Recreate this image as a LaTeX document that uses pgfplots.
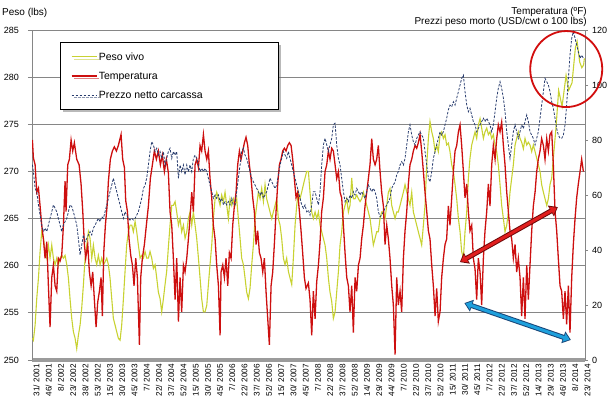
\documentclass[border=0pt]{standalone}
\usepackage{fontspec}
\setmainfont{Liberation Sans}
\usepackage{pgfplots}
\usepackage{pgfplotstable}
\pgfplotsset{compat=1.18}
\usetikzlibrary{shadows,arrows.meta}
\definecolor{cPeso}{RGB}{200,210,50}
\definecolor{cTemp}{RGB}{205,15,15}
\definecolor{cPrez}{RGB}{40,60,110}
\definecolor{cGrid}{RGB}{134,134,134}
\definecolor{cAxis}{RGB}{155,155,155}
\definecolor{cArrR}{RGB}{225,30,30}
\definecolor{cArrRd}{RGB}{110,10,10}
\definecolor{cArrB}{RGB}{30,160,220}
\definecolor{cArrBd}{RGB}{25,70,120}

% Peso vivo (lbs), x = week index from 31/2001
\pgfplotstableread{
t v
0 252.3
1.2 252.1
3.3 253.7
5.3 256.5
7.4 258.7
9.4 261.5
11.4 263.6
13.5 262.9
15.5 261.5
17.6 260.8
19.6 262.2
21.6 260.8
23.7 262.2
25.7 260.8
27.8 260.1
29.8 260.8
31.8 260.1
33.9 260.8
35.9 261.1
38.0 260.8
40.0 261.1
42.1 260.1
44.1 258.7
46.1 256.5
48.2 254.4
50.2 253
52.3 252.3
54.3 251.2
56.3 252.6
58.4 253.7
60.4 255.5
62.5 258
64.5 260.8
66.6 262.2
68.6 263.6
70.6 262.9
72.7 260.8
74.7 262.2
76.8 260.8
78.8 260.1
80.8 261.1
82.9 260.1
84.9 260.8
87.0 260.1
89.0 260.4
91.1 260.8
93.1 260.1
95.1 258.7
97.2 256.5
99.2 254.4
101.3 253.7
103.3 253
105.3 252.3
107.4 252.1
109.4 253.7
111.5 256.5
113.5 259.4
115.5 262.2
117.6 263.6
119.6 264.3
121.7 264.3
123.7 263.6
125.8 264.7
127.8 263.6
129.8 262.2
131.9 260.8
133.9 261.1
136.0 260.8
138.0 261.5
140.0 260.8
142.1 260.8
144.1 261.5
146.2 260.8
148.2 259.7
150.3 260.1
152.3 258.7
154.3 257.2
156.4 256.5
158.4 255.1
160.5 256.5
162.5 258
164.5 259.4
166.6 262
168.6 264.3
170.7 266.4
172.7 266.4
174.8 266.8
176.8 265.7
178.9 264.3
180.9 265
182.9 263.6
185.0 264.3
187.0 262.9
189.1 263.6
191.1 265
193.1 265.7
195.2 264.3
197.2 265.7
199.3 264.3
201.3 262.9
203.4 260.8
205.4 258.7
207.4 256.5
209.5 255.1
211.5 255.1
213.6 255.8
215.6 258
217.6 260.1
219.7 262.2
221.7 265
223.8 267.1
225.8 267.8
227.9 267.1
229.9 266.4
231.9 267.5
234.0 266.8
236.0 267.8
238.1 266.4
240.1 265
242.1 267.1
244.2 266.4
246.2 267.1
248.3 266.4
250.3 267.1
252.3 265
254.4 262.9
256.4 260.8
258.5 260.1
260.5 258.7
262.5 257.2
264.6 256.5
266.6 257.6
268.7 260.1
270.7 262.2
272.8 265
274.8 266.4
276.8 267.8
278.9 267.1
280.9 268.2
283.0 266.8
285.0 268.6
287.0 267.1
289.1 266.4
291.1 265.7
293.2 265
295.2 265.7
297.3 266.4
299.3 267.1
301.3 265
303.4 264.3
305.4 262.9
307.5 260.8
309.5 260.1
311.5 260.8
313.6 259.4
315.6 258.7
317.7 258
319.7 260.8
321.8 264.3
323.8 266.4
325.8 267.8
327.9 267.1
329.9 267.8
332.0 268.6
334.0 269.3
336.0 270
338.1 270
340.1 267.8
342.2 265.7
344.2 265
346.3 265.7
348.3 265
350.4 265.7
352.4 264.3
354.4 263.6
356.5 262.9
358.5 262.2
360.6 260.8
362.6 258.7
364.6 257.2
366.7 256.2
368.7 254.4
370.8 255.1
372.8 257.2
374.9 259.4
376.9 262.2
378.9 263.6
381.0 265.7
383.0 266.4
385.1 267.1
387.1 265.7
389.1 266.4
391.2 269.3
393.2 267.1
395.3 267.1
397.3 267.5
399.4 267.1
401.4 266.8
403.4 267.1
405.5 267.8
407.5 267.1
409.6 266.4
411.6 265.7
413.6 265
415.7 263.6
417.7 262.2
419.8 262.9
421.8 263.6
423.8 263.6
425.9 265
427.9 265.7
430.0 265.7
432.0 265
434.1 266.4
436.1 267.8
438.1 268.2
440.2 266.4
442.2 265.7
444.3 265
446.3 265.7
448.3 265.7
450.4 266.4
452.4 267.1
454.5 267.8
456.5 268.6
458.6 267.8
460.6 267.1
462.6 266.4
464.7 267.8
466.7 265.7
468.8 265
470.8 264.3
472.8 263.6
474.9 262.9
476.9 262.2
479.0 264.3
481.0 266.4
483.1 270.7
485.1 273.5
487.1 275.3
489.2 274.2
491.2 273.5
493.3 272.1
495.3 272.8
497.3 272.1
499.4 273.9
501.4 274.2
503.5 273.5
505.5 273.9
507.5 272.8
509.6 273
511.6 272.1
513.7 270.7
515.7 270
517.8 268.6
519.8 267.1
521.9 265
523.9 263.6
525.9 261.5
528.0 260.8
530.0 263.6
532.1 265.7
534.1 269.3
536.1 271.4
538.2 272.8
540.2 273.5
542.3 274.2
544.3 273.5
546.3 274.9
548.4 275.6
550.4 274.6
552.5 273.5
554.5 274.2
556.6 274.6
558.6 273.9
560.6 274.2
562.7 273.5
564.7 273.9
566.8 272.8
568.8 272.1
570.8 270.7
572.9 268.6
574.9 266.4
577.0 265
579.0 263.6
581.1 264.3
583.1 265.7
585.1 267.8
587.2 269.3
589.2 270.7
591.3 272.8
593.3 273.5
595.3 274.2
597.4 273.5
599.4 273.1
601.5 272.4
603.5 273.5
605.6 272.8
607.6 273.1
609.6 272.8
611.7 272.1
613.7 272.8
615.8 272.1
617.8 271.4
619.8 270.7
621.9 270
623.9 268.6
626.0 267.8
628.0 267.1
630.1 266.4
632.1 267.1
634.1 268.6
636.2 269.3
638.2 271.4
641.5 274.7
644.7 278.6
648.9 276.9
653.8 280.2
657.0 278.6
661.1 279.4
665.2 283.1
667.3 283.8
670.5 281.6
673.1 281.0
675.3 281.3
676.2 282
}\peso

% Temperatura (F)
\pgfplotstableread{
t v
0 80
1.2 73.5
3.3 71
5.3 61
7.4 62.5
9.4 56
11.4 49
13.5 44
15.5 37
17.6 43
19.6 27
21.6 12
23.7 30
25.7 34.5
27.8 27
29.8 25
31.8 37
33.9 36
35.9 38
38.0 49
40.0 65
41.2 54
43.3 71
45.3 73
47.4 80
49.4 76
51.4 79
54.3 73
57.2 71
59.6 64
61.7 54
63.7 42
65.3 37
67.8 42
69.8 32
71.9 27
73.9 32
75.9 22
78.0 12
80.0 21
82.1 25
84.1 30
85.7 16
87.4 39
89.4 49
91.5 56
93.1 65
95.5 73
98.0 76
100.4 77.5
102.9 76
105.3 78
108.6 82
110.6 73
112.7 70
114.3 58
116.4 54
118.4 44
120.5 38
122.5 34.5
124.5 27
126.6 37
128.6 30
131.1 5.5
132.7 30
134.7 37
137.2 42
139.6 49
142.1 56
144.5 66
147.0 71
149.4 76
151.9 73
154.3 76
156.8 71
159.2 74.5
161.7 68.5
164.1 73
166.6 68
168.6 54
170.7 49
172.7 37
174.8 22
176.8 37
178.9 14
180.9 30
182.9 17.5
185.0 34.5
187.0 32
189.1 37
191.1 44
193.1 51.5
195.2 61
197.2 54
199.3 71
201.3 73
203.4 70
205.4 78
207.4 76
209.5 82
211.5 76
213.6 73
215.6 76
217.6 66
219.7 59
221.7 49
223.8 44
225.8 34.5
227.9 27
229.9 9
231.1 32
233.2 34.5
235.2 30
237.2 37
239.3 27
241.3 39
243.4 37
245.4 49
247.4 56
249.5 61
251.5 71
253.6 76
255.6 73
257.7 76
259.7 79
261.7 81
263.8 78
265.8 71
267.9 66
269.9 59
271.9 54
274.0 42
276.0 47
278.1 39
280.1 37
282.2 32
284.2 37
286.2 25
288.3 15
290.3 5.5
292.4 27
294.4 32
296.4 42
298.5 54
300.5 64
302.6 71
304.6 73
306.6 76
308.7 77
310.7 76
312.8 78
314.8 79
316.9 78
318.9 73
320.9 66
323.0 59
325.0 61
327.1 54
329.1 47
331.1 39
333.2 30
335.2 26
338.1 28
340.1 22
342.2 9
344.2 25
346.3 15
348.3 28.5
350.4 34.5
352.4 43
354.4 54
356.5 59
358.5 68.5
360.6 71
362.6 76
364.6 73
366.7 77
368.7 76
370.8 71
372.8 66
374.9 68.5
376.9 61
378.9 59
381.0 49
383.0 39
385.1 30
387.1 27
389.1 17.5
391.2 27
393.2 10
395.3 30
397.3 25
399.4 34.5
401.4 37
403.4 44
405.5 49
407.5 56
409.6 61
411.6 66
413.6 71
415.7 80.5
417.7 73
419.8 71
421.8 73
423.8 78
425.9 68.5
427.9 61
430.0 56
432.0 42
434.1 49
436.1 44
438.1 37
440.2 27
442.2 20
444.3 2
446.3 30
448.3 20
450.4 25
452.4 17.5
454.5 37
456.5 47
458.6 54
460.6 64
462.6 71
464.7 73
466.7 76
468.8 78
470.8 77
472.8 79
474.9 82
476.9 76
479.0 68.5
481.0 61
483.1 54
485.1 47
487.1 44
489.2 34.5
491.2 27
493.3 16
495.3 26
497.3 14
499.4 17.5
501.4 30
503.5 37
505.5 42
507.5 44
509.6 56
511.6 49
513.7 59
515.7 68.5
517.8 76
519.8 78
521.9 83
523.9 85.5
525.9 78
528.0 68.5
530.0 59
532.1 64
534.1 54
536.1 47
538.2 49
540.2 37
542.3 33
544.3 22
546.3 37
548.4 32
550.4 20
552.5 37
554.5 47
556.6 54
558.6 64
560.6 56
562.7 71
564.7 78
566.8 73
568.8 80.5
570.8 85.5
572.9 83
574.9 86.5
577.0 78
579.0 71
581.1 61
583.1 54
585.1 47
587.2 44
589.2 37
591.3 42
593.3 32
595.3 37
597.4 30
599.4 16
601.5 30
603.5 15
605.6 34.5
607.6 22
609.6 34.5
611.7 47
613.7 56
615.8 61
617.8 68.5
619.8 73
621.9 76
623.9 80.5
626.0 78
628.0 73
630.1 80.5
632.1 76
634.1 82
636.2 83
638.2 71
640.3 54
642.3 47
644.3 37
646.4 27
648.4 25
650.5 15
652.5 25
654.5 13
656.6 27
658.6 10
660.7 30
662.7 42
664.8 51.5
666.8 59
668.8 64
670.9 68.5
672.9 73
675.0 68.5
}\temp

% Prezzo netto carcassa (USD/cwt)
\pgfplotstableread{
t v
0 71
1.2 68.5
3.3 62.4
5.3 61.2
7.4 56.4
9.4 52.7
11.4 49.1
13.5 46.7
15.5 47.9
17.6 46.7
19.6 49.1
21.6 51.5
23.7 53.9
25.7 56.4
27.8 55.2
29.8 53.9
31.8 51.5
33.9 49.1
35.9 46.7
38.0 49.1
40.0 50.3
42.1 51.5
44.1 53.9
46.1 56.4
48.2 55.8
50.2 53.9
52.3 51.5
54.3 49.1
56.3 44.2
58.4 38.2
60.4 41.8
62.5 45.5
64.5 43
66.6 44.2
68.6 45.5
70.6 46.7
72.7 45.5
74.7 47.9
76.8 49.1
78.8 50.3
80.8 51.5
82.9 50.3
84.9 52.1
87.0 51.5
89.0 53.9
91.1 56.4
93.1 58.8
95.1 61.2
97.2 63.6
99.2 66.1
101.3 63.6
103.3 61.2
105.3 58.8
107.4 56.4
109.4 53.9
111.5 51.5
113.5 53.9
115.5 52.7
117.6 51.5
119.6 50.9
121.7 51.5
123.7 50.9
125.8 51.5
127.8 52.7
129.8 53.9
131.9 56.4
133.9 58.8
136.0 62.4
138.0 63.6
140.0 66.1
142.1 70.9
144.1 75.8
146.2 79.4
148.2 78.2
150.3 75.8
152.3 77
154.3 74.5
156.4 75.8
158.4 73.3
160.5 75.8
162.5 70.9
164.5 73.3
166.6 75.8
168.6 77
170.7 73.3
172.7 75.8
174.8 74.5
176.8 75.8
178.9 66.1
180.9 70.9
182.9 68.5
185.0 70.9
187.0 67.3
189.1 70.9
191.1 68.5
193.1 70.9
195.2 68.5
197.2 73.3
199.3 74.5
201.3 73.3
203.4 70.9
205.4 68.5
207.4 69.7
209.5 68.5
211.5 69.7
213.6 68.5
215.6 66.1
217.6 63.6
219.7 61.2
221.7 58.8
223.8 60
225.8 58.8
227.9 60
229.9 57.6
231.9 58.8
234.0 56.4
236.0 57.6
238.1 56.4
240.1 57.6
242.1 56.4
244.2 58.8
246.2 56.4
248.3 56.4
250.3 61.2
252.3 66.1
254.4 70.9
256.4 75.8
258.5 77
260.5 74.5
262.5 73.3
264.6 70.9
266.6 68.5
268.7 66.1
270.7 64.8
272.8 63.6
274.8 62.4
276.8 61.2
278.9 60
280.9 61.2
283.0 58.8
285.0 60
287.0 61.2
289.1 63.6
291.1 66.1
293.2 64.8
295.2 63.6
297.3 62.4
299.3 63.6
301.3 67.3
303.4 70.9
305.4 73.3
307.5 75.8
309.5 74.5
311.5 73.3
313.6 75.8
315.6 73.3
317.7 70.9
319.7 68.5
321.8 66.1
323.8 63.6
325.8 61.2
327.9 58.8
329.9 56.4
332.0 55.2
334.0 56.4
336.0 53.9
338.1 54.5
340.1 52.7
342.2 56.4
344.2 61.2
346.3 61.2
348.3 58.8
350.4 56.4
352.4 61.2
354.4 70.9
356.5 78.2
358.5 80.6
360.6 78.2
362.6 75.8
364.6 78.2
366.7 80.6
368.7 85.5
370.8 86.1
372.8 78.2
374.9 73.3
376.9 70.9
378.9 66.1
381.0 61.2
383.0 57.6
385.1 58.8
387.1 57.6
389.1 60
391.2 58.8
393.2 61.2
395.3 60
397.3 62.4
399.4 61.2
401.4 60
403.4 61.2
405.5 60
407.5 58.8
409.6 61.2
411.6 63.6
413.6 62.4
415.7 61.2
417.7 62.4
419.8 61.2
421.8 58.8
423.8 53.9
425.9 52.1
427.9 52.7
430.0 53.9
432.0 55.2
434.1 56.4
436.1 57.6
438.1 58.8
440.2 62.4
442.2 63.6
444.3 64.8
446.3 67.3
448.3 68.5
450.4 70.9
452.4 72.1
454.5 70.9
456.5 73.3
458.6 78.2
460.6 83
462.6 85.5
464.7 81.8
466.7 79.4
468.8 78.2
470.8 80.6
472.8 81.8
474.9 83
476.9 81.8
479.0 80.6
481.0 75.8
483.1 70.9
485.1 66.1
487.1 64.8
489.2 68.5
491.2 73.3
493.3 75.8
495.3 78.2
497.3 80.6
499.4 83
501.4 81.8
503.5 83
505.5 85.5
507.5 87.9
509.6 91
511.6 92.7
513.7 92.1
515.7 93.9
517.8 92.7
519.8 95.2
521.9 97.6
523.9 100
525.9 102.4
528.0 103.6
530.0 97.6
532.1 92.7
534.1 90.3
536.1 91.5
538.2 89.1
540.2 86.7
542.3 85.5
544.3 83
546.3 84.2
548.4 85.5
550.4 86.7
552.5 87.9
554.5 86.7
556.6 87.9
558.6 86.7
560.6 85.5
562.7 83
564.7 85.5
566.8 90.3
568.8 95.2
570.8 98.8
572.9 101.2
574.9 98.8
577.0 95.2
579.0 90.3
581.1 83
583.1 78.2
585.1 73.3
587.2 78.2
589.2 83
591.3 85.5
593.3 83
595.3 80.6
597.4 83
599.4 85.5
601.5 84.2
603.5 86.7
605.6 89.1
607.6 86.7
609.6 83
611.7 81.8
613.7 80.6
615.8 78.2
617.8 80.6
619.8 83
621.9 87.9
623.9 92.7
626.0 97.6
628.0 102.4
630.1 101.2
632.1 100
634.1 97.6
636.2 93.9
638.2 91.5
640.3 87.9
642.3 84.2
644.3 81.8
646.4 80.6
648.4 80.6
650.5 81.8
652.5 85.5
654.5 92.7
656.6 102.4
658.6 110.9
660.7 117
662.7 119.4
664.8 117
666.8 114.5
668.8 112.1
670.9 109.7
672.9 110.9
675.0 109.7
}\prezzo

\begin{document}
\begin{tikzpicture}
\path[use as bounding box] (0bp,0bp) rectangle (610bp,400bp);
\pgfplotsset{
  every axis/.append style={
    at={(32bp,40bp)}, anchor=south west, scale only axis,
    width=553bp, height=330bp,
    xmin=-0.5, xmax=677,
    /pgf/number format/assume math mode=true,
    tick align=outside,
  },
}
\begin{axis}[
  ymin=250, ymax=285,
  ytick={250,255,...,285},
  xtick={0,15,...,675},
  xticklabels={31/ 2001,46/ 2001,8/ 2002,23/ 2002,38/ 2002,53/ 2002,15/ 2003,30/ 2003,45/ 2003,7/ 2004,22/ 2004,37/ 2004,52/ 2004,15/ 2005,30/ 2005,45/ 2005,7/ 2006,22/ 2006,37/ 2006,52/ 2006,15/ 2007,30/ 2007,45/ 2007,7/ 2008,22/ 2008,37/ 2008,52/ 2008,14/ 2009,29/ 2009,44/ 2009,7/ 2010,22/ 2010,37/ 2010,52/ 2010,15/ 2011,30/ 2011,45/ 2011,7/ 2012,22/ 2012,37/ 2012,52/ 2012,14/ 2013,29/ 2013,46/ 2013,8/ 2014,23/ 2014},
  axis x line*=bottom, axis y line*=left,
  x axis line style={cAxis, line width=3bp},
  y axis line style={cGrid, line width=0.8bp},
  xtick style={draw=none},
  ytick style={cGrid, line width=0.8bp},
  major tick length=4bp,
  ymajorgrids, grid style={cGrid, line width=0.8bp},
  xticklabel style={rotate=90, anchor=east, inner sep=0pt, yshift=-4bp, font=\fontsize{8.2bp}{9bp}\selectfont},
  yticklabel style={anchor=east, inner sep=0pt, xshift=-9bp, font=\fontsize{9bp}{10bp}\selectfont},
]
\addplot[cPeso, line width=1.1bp] table[x=t, y=v] {\peso};
\end{axis}

\begin{axis}[
  ymin=0, ymax=120,
  ytick={0,20,...,120},
  hide x axis,
  axis y line*=right,
  y axis line style={cGrid, line width=0.8bp},
  ytick style={cGrid, line width=0.8bp},
  major tick length=3bp,
  yticklabel style={anchor=west, inner sep=0pt, xshift=4bp, font=\fontsize{9bp}{10bp}\selectfont},
  clip mode=individual,
  legend cell align=left,
  legend image code/.code={\draw[#1] (0bp,0bp) -- (25bp,0bp);},
  legend style={at={(0.0506,0.9636)}, anchor=north west, draw=black, line width=1bp, fill=white,
    inner xsep=10.5bp, inner ysep=7.5bp, row sep=6bp, nodes={inner sep=1.5bp},
    font=\fontsize{10.5bp}{12.6bp}\selectfont,
    drop shadow={shadow xshift=2.5bp, shadow yshift=-2.5bp, fill=black!55}},
]
\addlegendimage{cPeso, line width=1.1bp}
\addlegendentry{\makebox[168bp][l]{\strut Peso vivo}}
\addplot[cTemp, line width=1.3bp] table[x=t, y=v] {\temp};
\addlegendentry{\makebox[168bp][l]{\strut Temperatura}}
\addplot[cPrez, line width=0.8bp, dash pattern=on 2.5bp off 1.5bp] table[x=t, y=v] {\prezzo};
\addlegendentry{\makebox[168bp][l]{\strut Prezzo netto carcassa}}

% annotations
\draw[cTemp!90!red, line width=1.8bp] (axis cs:654,105.8) ellipse [x radius=36bp, y radius=38bp];
\draw[cArrRd, line width=5bp, {Triangle[length=8bp,width=12bp]}-{Triangle[length=8bp,width=12bp]}] (axis cs:523.7,35.6) -- (axis cs:643.7,55.6);
\draw[cArrR, line width=3bp, shorten <=1.3bp, shorten >=1.3bp, {Triangle[length=6bp,width=8.5bp]}-{Triangle[length=6bp,width=8.5bp]}] (axis cs:523.7,35.6) -- (axis cs:643.7,55.6);
\draw[cArrBd, line width=5bp, {Triangle[length=8bp,width=12bp]}-{Triangle[length=8bp,width=12bp]}] (axis cs:529.2,20.7) -- (axis cs:659.7,7.3);
\draw[cArrB, line width=3bp, shorten <=1.3bp, shorten >=1.3bp, {Triangle[length=6bp,width=8.5bp]}-{Triangle[length=6bp,width=8.5bp]}] (axis cs:529.2,20.7) -- (axis cs:659.7,7.3);
\end{axis}

\node[anchor=west, inner sep=0pt, font=\fontsize{10bp}{12bp}\selectfont] at (2bp,387.5bp) {Peso (lbs)};
\node[anchor=east, inner sep=0pt, font=\fontsize{10bp}{12bp}\selectfont] at (587bp,388bp) {Temperatura (ºF)};
\node[anchor=east, inner sep=0pt, font=\fontsize{10bp}{12bp}\selectfont] at (587bp,378.3bp) {Prezzi peso morto (USD/cwt o 100 lbs)};
\end{tikzpicture}
\end{document}
